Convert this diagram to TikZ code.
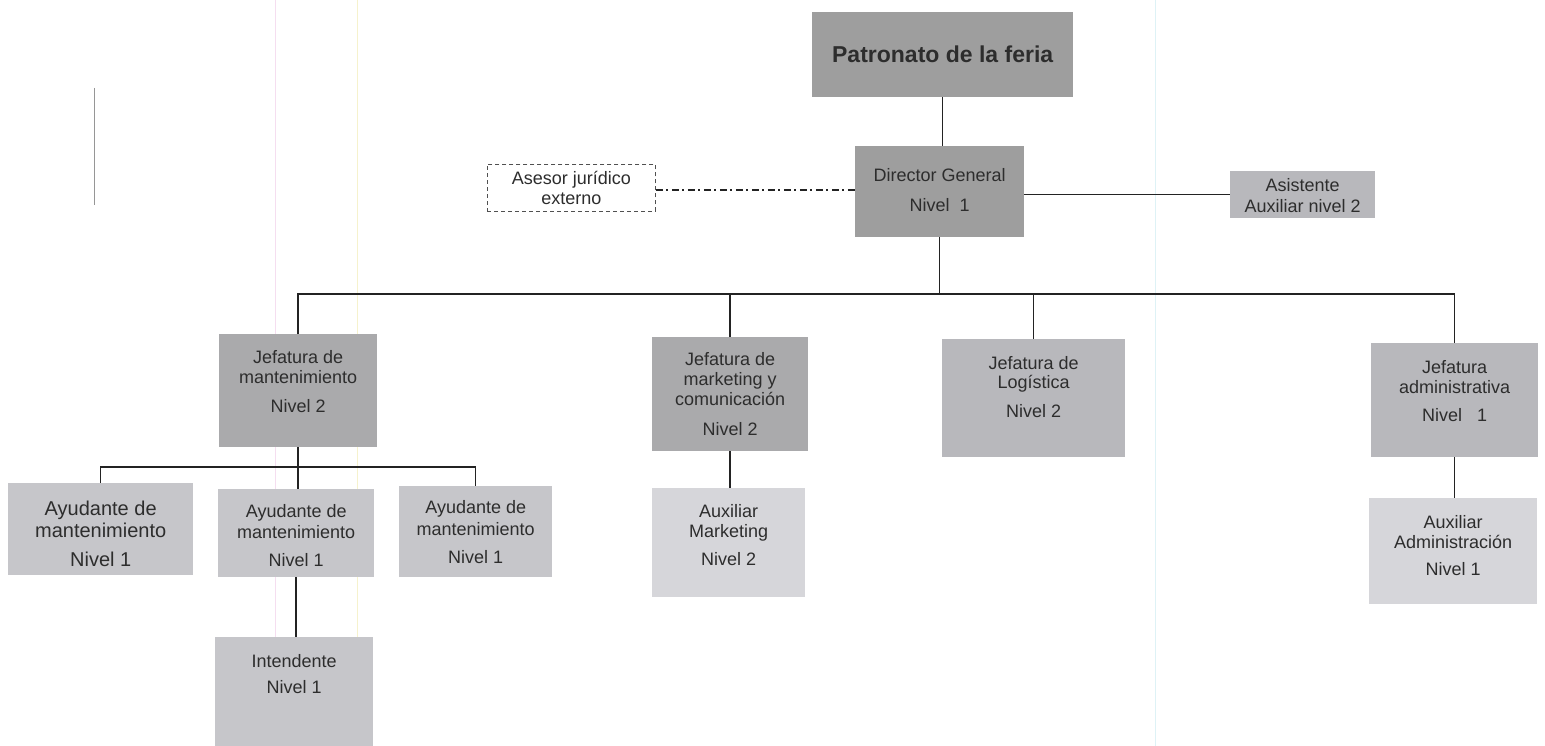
\documentclass[tikz,border=0pt]{standalone}
\usepackage{fontspec}
\setmainfont{Liberation Sans}
\definecolor{cA}{RGB}{158,158,158}
\definecolor{cB}{RGB}{170,170,172}
\definecolor{cC}{RGB}{184,184,188}
\definecolor{cD}{RGB}{198,198,202}
\definecolor{cE}{RGB}{214,214,218}
\definecolor{ctxt}{RGB}{45,45,45}
\definecolor{cline}{RGB}{35,35,35}
\begin{document}
\begin{tikzpicture}[x=1pt,y=-1pt,
  box/.style={fill=#1, draw=none, inner sep=0pt, anchor=north west},
  txt/.style={align=center, inner sep=0pt, anchor=base, text=ctxt,
    font=\fontsize{18}{20}\selectfont},
  link/.style={draw=cline, line width=1.5pt},
  artifact/.style={line width=0.8pt}]
\useasboundingbox (0,0) rectangle (1545,746);
% scan artifacts
\draw[artifact, draw={rgb,255:red,245;green,222;blue,240}] (275,0) -- (275,746);
\draw[artifact, draw={rgb,255:red,246;green,242;blue,205}] (357,0) -- (357,746);
\draw[artifact, draw={rgb,255:red,222;green,242;blue,246}] (1155,0) -- (1155,746);
\draw[artifact, draw={rgb,255:red,150;green,150;blue,150}] (94,88) -- (94,205);

% boxes
\node[box=cA, minimum width=261pt, minimum height=85pt, text=ctxt,
  font=\bfseries\fontsize{23}{26}\selectfont] (pat) at (812,12) {Patronato de la feria};
\node[box=cA, minimum width=169pt, minimum height=91pt] (dir) at (855,146) {};
\node[box=white, draw={rgb,255:red,80;green,80;blue,80}, dash pattern=on 4pt off 3pt,
  line width=0.8pt, minimum width=168pt, minimum height=47pt] (ase) at (487,164) {};
\node[box=cC, minimum width=145pt, minimum height=47pt] (asis) at (1230,171) {};
\node[box=cB, minimum width=158pt, minimum height=113pt] (jm) at (219,334) {};
\node[box=cB, minimum width=156pt, minimum height=114pt] (mk) at (652,337) {};
\node[box=cC, minimum width=183pt, minimum height=118pt] (lg) at (942,339) {};
\node[box=cC, minimum width=167pt, minimum height=114pt] (ad) at (1371,343) {};
\node[box=cD, minimum width=185pt, minimum height=92pt] (ay1) at (8,483) {};
\node[box=cD, minimum width=156pt, minimum height=88pt] (ay2) at (218,489) {};
\node[box=cD, minimum width=153pt, minimum height=91pt] (ay3) at (399,486) {};
\node[box=cD, minimum width=158pt, minimum height=109pt] (int) at (215,637) {};
\node[box=cE, minimum width=153pt, minimum height=109pt] (amk) at (652,488) {};
\node[box=cE, minimum width=168pt, minimum height=106pt] (aad) at (1369,498) {};

% connectors
\coordinate (bus) at (940,294);
\coordinate (sbus) at (297,467);
\draw[link] (pat.south) -- (pat.south |- dir.north);
\draw[link] (dir.south) -- (dir.south |- bus);
\draw[link] (jm.north) |- (bus) -| (ad.north);
\draw[link] (mk.north) -- (mk.north |- bus);
\draw[link] (lg.north) -- (lg.north |- bus);
\draw[link] (asis.west -| dir.east) -- (asis.west);
\draw[draw=cline, line width=1.3pt, dash pattern=on 7pt off 3.5pt on 2pt off 3.5pt]
  ([yshift=-2pt]ase.east) -- ([yshift=-2pt]ase.east -| dir.west);
\draw[link] (ay1.north) |- (sbus) -| (ay3.north);
\draw[link] (jm.south) -- (jm.south |- ay2.north);
\draw[link] (ay2.south) -- (ay2.south |- int.north);
\draw[link] (mk.south) -- (mk.south |- amk.north);
\draw[link] (ad.south) -- (ad.south |- aad.north);

% texts (anchor base = baseline of the last line)
\node[txt] (dirT) at ([yshift=-66pt]dir.north) {Director General\\[10pt]Nivel\ \ 1};
\node[txt] (aseT) at ([yshift=-41pt]ase.north) {Asesor jurídico\\externo};
\node[txt, font=\fontsize{18}{21}\selectfont] (asisT) at ([yshift=-42pt]asis.north) {Asistente\\Auxiliar nivel 2};
\node[txt] (jmT) at ([yshift=-78pt]jm.north) {Jefatura de\\mantenimiento\\[9pt]Nivel 2};
\node[txt] (mkT) at ([yshift=-98pt]mk.north) {Jefatura de\\marketing y\\comunicación\\[10pt]Nivel 2};
\node[txt, font=\fontsize{18}{19}\selectfont] (lgT) at ([yshift=-78pt]lg.north) {Jefatura de\\Logística\\[10pt]Nivel 2};
\node[txt] (adT) at ([yshift=-78pt]ad.north) {Jefatura\\administrativa\\[8pt]Nivel\ \ \ 1};
\node[txt, font=\fontsize{20}{22}\selectfont] (ay1T) at ([yshift=-83pt]ay1.north) {Ayudante de\\mantenimiento\\[7pt]Nivel 1};
\node[txt, font=\fontsize{18}{21}\selectfont] (ay2T) at ([yshift=-77pt]ay2.north) {Ayudante de\\mantenimiento\\[7pt]Nivel 1};
\node[txt, font=\fontsize{18}{22}\selectfont] (ay3T) at ([yshift=-77pt]ay3.north) {Ayudante de\\mantenimiento\\[6pt]Nivel 1};
\node[txt] (intT) at ([yshift=-56pt]int.north) {Intendente\\[6pt]Nivel 1};
\node[txt] (amkT) at ([yshift=-77pt]amk.north) {Auxiliar\\Marketing\\[8pt]Nivel 2};
\node[txt] (aadT) at ([yshift=-77pt]aad.north) {Auxiliar\\Administración\\[7pt]Nivel 1};
\end{tikzpicture}
\end{document}
